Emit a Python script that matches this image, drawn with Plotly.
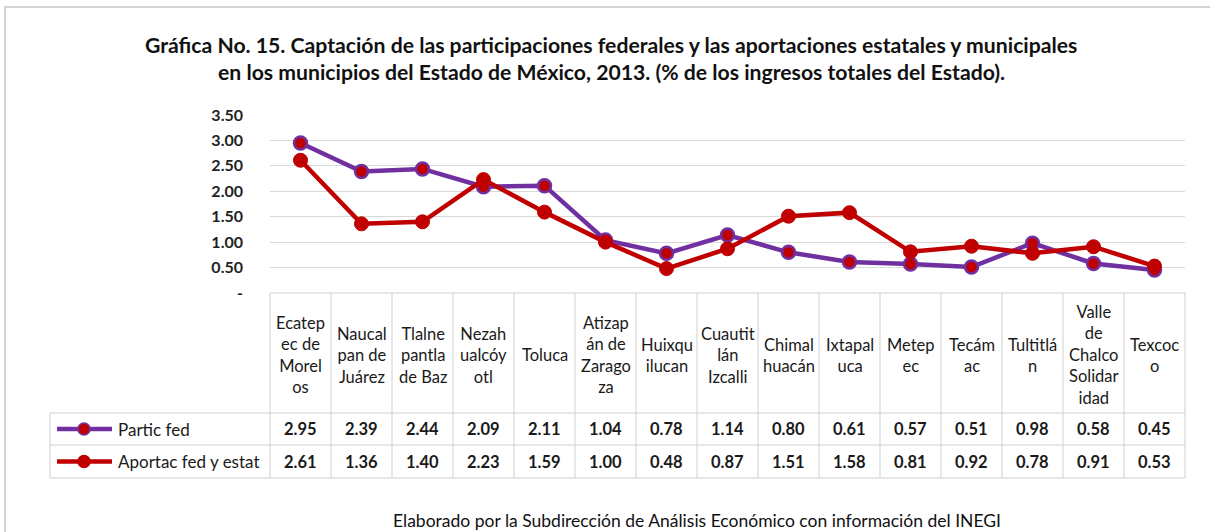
import plotly.graph_objects as go

# ---------------- data ----------------
municipios = [
    "Ecatepec de Morelos", "Naucalpan de Juárez", "Tlalnepantla de Baz",
    "Nezahualcóyotl", "Toluca", "Atizapán de Zaragoza", "Huixquilucan",
    "Cuautitlán Izcalli", "Chimalhuacán", "Ixtapaluca", "Metepec", "Tecámac",
    "Tultitlán", "Valle de Chalco Solidaridad", "Texcoco",
]
etiquetas = [
    "Ecatep<br>ec de<br>Morel<br>os", "Naucal<br>pan de<br>Juárez",
    "Tlalne<br>pantla<br>de Baz", "Nezah<br>ualcóy<br>otl", "Toluca",
    "Atizap<br>án de<br>Zarago<br>za", "Huixqu<br>ilucan",
    "Cuautit<br>lán<br>Izcalli", "Chimal<br>huacán", "Ixtapal<br>uca",
    "Metep<br>ec", "Tecám<br>ac", "Tultitlá<br>n",
    "Valle<br>de<br>Chalco<br>Solidar<br>idad", "Texcoc<br>o",
]
partic_fed = [2.95, 2.39, 2.44, 2.09, 2.11, 1.04, 0.78, 1.14, 0.80, 0.61,
              0.57, 0.51, 0.98, 0.58, 0.45]
aportac_fed_estat = [2.61, 1.36, 1.40, 2.23, 1.59, 1.00, 0.48, 0.87, 1.51,
                     1.58, 0.81, 0.92, 0.78, 0.91, 0.53]
serie_nombres = ["Partic fed", "Aportac fed y estat"]
y_ticks = [0, 0.5, 1.0, 1.5, 2.0, 2.5, 3.0, 3.5]
y_ticktext = ["-", "0.50", "1.00", "1.50", "2.00", "2.50", "3.00", "3.50"]

titulo1 = "Gráfica No. 15. Captación de las participaciones federales y las aportaciones estatales y municipales"
titulo2 = "en los municipios del Estado de México, 2013. (% de los ingresos totales del Estado)."
fuente = "Elaborado por la Subdirección de Análisis Económico con información del INEGI"

# ---------------- layout geometry ----------------
W, H = 1210, 532
PL, PR, PT, PB = 270, 1185, 115, 293    # plot area in window pixels
ML, MT = PL, PT
MR, MB = W - PR, H - PB
PW, PH = PR - PL, PB - PT
PURPLE = "#7030A0"
RED = "#C00000"
GRID = "#D9D9D9"
TBL = "#CFCFCF"
FONT = "Lato"
TXT = "#1a1a1a"

n = len(municipios)
xs = list(range(n))


def px(x):
    return (x - PL) / PW


def py(y):
    return (PB - y) / PH


def col_edge(k):
    # paper position of the boundary left of category k (axis range -0.5..n-0.5)
    return k / n


fig = go.Figure()
fig.add_trace(go.Scatter(
    x=xs, y=partic_fed, name=serie_nombres[0], mode="lines+markers",
    line=dict(color=PURPLE, width=4.5),
    marker=dict(size=13, color=RED, line=dict(color=PURPLE, width=2.5)),
    cliponaxis=False,
))
fig.add_trace(go.Scatter(
    x=xs, y=aportac_fed_estat, name=serie_nombres[1], mode="lines+markers",
    line=dict(color=RED, width=4.5),
    marker=dict(size=14, color=RED, line=dict(color=RED, width=1)),
    cliponaxis=False,
))

shapes = []
# outer frame (left and top visible)
shapes.append(dict(type="path", xref="paper", yref="paper",
                   path=f"M {px(5)} {py(545)} L {px(5)} {py(7)} L {px(1225)} {py(7)}",
                   line=dict(color="#D4D4D4", width=2)))

# table lines
table_top, hdr_bot, r1_bot, r2_bot = 293, 413, 445, 478
leg_left = 50
shapes.append(dict(type="line", xref="paper", yref="paper",
                   x0=col_edge(0), x1=col_edge(n), y0=py(table_top), y1=py(table_top),
                   line=dict(color=TBL, width=1)))
for yy in (hdr_bot, r1_bot, r2_bot):
    shapes.append(dict(type="line", xref="paper", yref="paper",
                       x0=px(leg_left), x1=col_edge(n), y0=py(yy), y1=py(yy),
                       line=dict(color=TBL, width=1)))
shapes.append(dict(type="line", xref="paper", yref="paper",
                   x0=px(leg_left), x1=px(leg_left), y0=py(hdr_bot), y1=py(r2_bot),
                   line=dict(color=TBL, width=1)))
for k in range(n + 1):
    shapes.append(dict(type="line", xref="paper", yref="paper",
                       x0=col_edge(k), x1=col_edge(k), y0=py(table_top), y1=py(r2_bot),
                       line=dict(color=TBL, width=1)))

annotations = []
# category headers
for i, lab in enumerate(etiquetas):
    annotations.append(dict(x=i, xref="x", y=py((table_top + hdr_bot) / 2 + 2), yref="paper",
                            text=lab, showarrow=False, align="center",
                            xanchor="center", yanchor="middle",
                            font=dict(family=FONT, size=16.5, color=TXT)))
# values
rows = [(partic_fed, (hdr_bot + r1_bot) / 2), (aportac_fed_estat, (r1_bot + r2_bot) / 2)]
for vals, yc in rows:
    for i, v in enumerate(vals):
        annotations.append(dict(x=i, xref="x", y=py(yc), yref="paper",
                                text=f"{v:.2f}", showarrow=False,
                                xanchor="center", yanchor="middle",
                                font=dict(family=FONT, size=16.5, color=TXT, weight="bold")))

# legend keys inside the table
for (name, col), (_, yc) in zip([(serie_nombres[0], PURPLE), (serie_nombres[1], RED)], rows):
    shapes.append(dict(type="line", xref="paper", yref="paper",
                       x0=px(57), x1=px(112), y0=py(yc), y1=py(yc),
                       line=dict(color=col, width=4.5)))
    r = 6
    shapes.append(dict(type="circle", xref="paper", yref="paper",
                       x0=px(84 - r), x1=px(84 + r), y0=py(yc - r), y1=py(yc + r),
                       fillcolor=RED, line=dict(color=col, width=1.5)))
    annotations.append(dict(x=px(116), xref="paper", y=py(yc), yref="paper",
                            text=name, showarrow=False, xanchor="left", yanchor="middle",
                            font=dict(family=FONT, size=17, color=TXT)))

# title lines
for txt, yy in ((titulo1, 45), (titulo2, 72)):
    annotations.append(dict(x=px(611), xref="paper", y=py(yy), yref="paper", text=txt,
                            showarrow=False, xanchor="center", yanchor="middle",
                            font=dict(family=FONT, size=21.2, color="#111111", weight="bold")))
# source
annotations.append(dict(x=px(697), xref="paper", y=py(520), yref="paper", text=fuente,
                        showarrow=False, xanchor="center", yanchor="middle",
                        font=dict(family=FONT, size=17.5, color="#111111")))

fig.update_layout(
    width=W, height=H,
    margin=dict(l=ML, r=MR, t=MT, b=MB, pad=0),
    paper_bgcolor="white", plot_bgcolor="white",
    showlegend=False,
    shapes=shapes, annotations=annotations,
    xaxis=dict(range=[-0.5, n - 0.5], showticklabels=False, showgrid=False,
               zeroline=False, showline=False, ticks=""),
    yaxis=dict(range=[0, 3.5], tickvals=y_ticks, ticktext=y_ticktext,
               showgrid=True, gridcolor=GRID, gridwidth=1, zeroline=False,
               showline=False, ticks="", ticklabelstandoff=26,
               tickfont=dict(family=FONT, size=16, color="#222222", weight="bold")),
)

fig.write_html(
    "out.html",
    config={"displayModeBar": False},
    post_script="document.body.style.margin='0';document.body.style.overflow='hidden';",
)
